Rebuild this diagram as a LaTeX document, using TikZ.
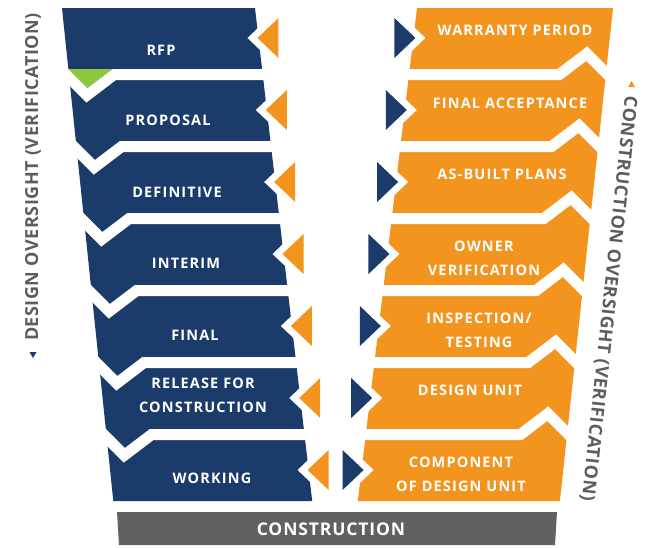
\documentclass[tikz,border=0pt]{standalone}
\usepackage{fontspec}
\setmainfont{Open Sans}
\definecolor{navy}{RGB}{27,59,107}
\definecolor{orng}{RGB}{243,148,30}
\definecolor{leaf}{RGB}{141,198,63}
\definecolor{bargray}{RGB}{96,97,99}
\definecolor{labelgray}{RGB}{92,93,95}
\begin{document}
\begin{tikzpicture}[x=1pt,y=-1pt,
  blk/.style={text=white, font=\fontsize{14.5}{24}\selectfont\bfseries\addfontfeature{LetterSpace=8}, align=center, inner sep=0pt},
  gapline/.style={draw=white, line width=11pt, line join=miter},
  side/.style={text=labelgray, font=\fontsize{18}{18}\selectfont\bfseries\addfontfeature{LetterSpace=3}, inner sep=0pt}]
\useasboundingbox (0,0) rectangle (647,547);
% columns
\fill[navy] (62,8) -- (255,8) -- (312.2,501) -- (113.3,501) -- cycle;
\fill[orng] (417,8) -- (613,8) -- (559.9,501) -- (357.8,501) -- cycle;
% gaps, left column (tabs pointing down)
\foreach \i in {0,...,5}{
  \pgfmathsetmacro\yb{69+72*\i}
  \pgfmathsetmacro\X{62+0.104*(\yb-8)}
  \pgfmathsetmacro\XR{255+0.116*(\yb-8)+30}
  \draw[gapline] (\X-18.9,\yb-11.1) -- (\X+18.5,\yb+26.3) -- (\X+45.9,\yb+5.5) -- (\XR,\yb+5.5);
}
% gaps, right column (tabs pointing up)
\foreach \i in {0,...,5}{
  \pgfmathsetmacro\yt{80+72*\i}
  \pgfmathsetmacro\X{613-0.108*(\yt-8)}
  \pgfmathsetmacro\XL{417-0.12*(\yt-8)-30}
  \draw[gapline] (\X+18.9,\yt+11.1) -- (\X-18.5,\yt-26.3) -- (\X-45.9,\yt-5.5) -- (\XL,\yt-5.5);
}
% green tab of RFP
\fill[leaf] (68.3,69) -- (87.3,88) -- (112.3,69) -- cycle;
% notches
\foreach \i in {0,...,6}{
  \pgfmathsetmacro\yc{38+72*\i}
  \pgfmathsetmacro\T{255+0.116*(\yc-8)-1}
  \pgfmathsetmacro\U{417-0.12*(\yc-8)+2}
  \fill[white] (\T-10,\yc) -- (\T+30,\yc-38.1) -- (\T+30,\yc+38.1) -- cycle;
  \fill[white] (\U+10,\yc) -- (\U-30,\yc-38.1) -- (\U-30,\yc+38.1) -- cycle;
}
% triangles
\foreach \i in {0,...,6}{
  \pgfmathsetmacro\yc{38+72*\i}
  \pgfmathsetmacro\T{255+0.116*(\yc-8)-1}
  \pgfmathsetmacro\U{417-0.12*(\yc-8)+2}
  \fill[orng] (\T,\yc) -- (\T+21,\yc-20) -- (\T+21,\yc+20) -- cycle;
  \fill[navy] (\U,\yc) -- (\U-21,\yc-20) -- (\U-21,\yc+20) -- cycle;
}
% construction bar
\fill[bargray] (117,512) -- (557,512) -- (555,545) -- (119,545) -- cycle;
\node[text=white, font=\fontsize{17.5}{17.5}\selectfont\bfseries\addfontfeature{LetterSpace=5}, inner sep=0pt] (construction) at (331,529) {CONSTRUCTION};
% left labels
\node[blk] (rfp) at (161,50) {RFP};
\node[blk] (proposal) at (168,120) {PROPOSAL};
\node[blk] (definitive) at (177,192) {DEFINITIVE};
\node[blk] (interim) at (186,263) {INTERIM};
\node[blk] (final) at (195,335) {FINAL};
\node[blk] (release) at (203,395) {RELEASE FOR\\CONSTRUCTION};
\node[blk] (working) at (212,478) {WORKING};
% right labels
\node[blk] (warranty) at (515,30) {WARRANTY PERIOD};
\node[blk] (acceptance) at (510,103) {FINAL ACCEPTANCE};
\node[blk] (asbuilt) at (502,174) {AS-BUILT PLANS};
\node[blk] (owner) at (484,258.5) {OWNER\\VERIFICATION};
\node[blk] (inspection) at (479,330) {INSPECTION/\\TESTING};
\node[blk] (designunit) at (470,390) {DESIGN UNIT};
\node[blk] (component) at (461,474) {COMPONENT\\OF DESIGN UNIT};
% side labels
\node[side, rotate=90] (design) at (33,177) {DESIGN OVERSIGHT (VERIFICATION)};
\fill[navy] (29.5,352) -- (36.5,352) -- (33,358) -- cycle;
\node[side, rotate=-96.1] (constr) at (608.5,298.5) {CONSTRUCTION OVERSIGHT (VERIFICATION)};
\fill[orng] (628,87) -- (635,87) -- (631.5,81) -- cycle;
\end{tikzpicture}
\end{document}
